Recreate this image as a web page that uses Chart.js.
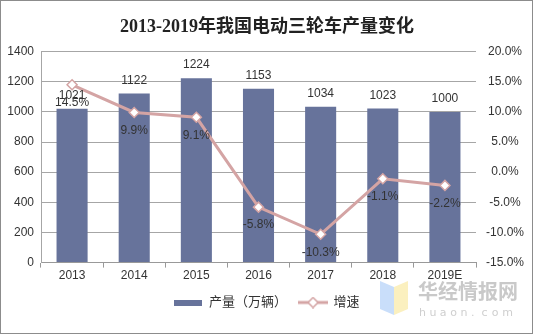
<!DOCTYPE html>
<html>
<head>
<meta charset="utf-8">
<script src="https://cdn.jsdelivr.net/npm/chart.js@4/dist/chart.umd.min.js"></script>
<style>
  html, body { margin: 0; padding: 0; background: #fff; }
  canvas { display: block; }
</style>
</head>
<body>
<canvas id="chart" width="534" height="335"></canvas>
<script>
// 資料
const years = ['2013', '2014', '2015', '2016', '2017', '2018', '2019E'];
const output = [1021, 1122, 1224, 1153, 1034, 1023, 1000]; // 產量（萬輛）
const growth = [14.5, 9.9, 9.1, -5.8, -10.3, -1.1, -2.2];  // 增速 %
const leftTicks = { min: 0, max: 1400, step: 200 };
const rightTicks = { min: -15, max: 20, step: 5 };

const barColor = '#67739b';
const lineColor = '#d4a4a4';
const textColor = '#333333';
const baseFont = '"Liberation Sans", Arial, "Noto Sans CJK SC", sans-serif';

// 圖例小圖示
function barSwatch() {
    const c = document.createElement('canvas');
    c.width = 28; c.height = 6;
    const g = c.getContext('2d');
    g.fillStyle = barColor;
    g.fillRect(0, 0, 28, 6);
    return c;
}
function lineSwatch() {
    const c = document.createElement('canvas');
    c.width = 30; c.height = 12;
    const g = c.getContext('2d');
    g.strokeStyle = lineColor;
    g.lineWidth = 3;
    g.beginPath(); g.moveTo(0, 6); g.lineTo(30, 6); g.stroke();
    g.fillStyle = '#fff';
    g.lineWidth = 1.5;
    g.beginPath();
    g.moveTo(15, 1); g.lineTo(20, 6); g.lineTo(15, 11); g.lineTo(10, 6); g.closePath();
    g.fill(); g.stroke();
    return c;
}

// 數值標籤、外框、浮水印
const extras = {
    id: 'extras',
    afterDatasetsDraw(chart) {
        const ctx = chart.ctx;
        ctx.save();
        ctx.font = '12px ' + baseFont;
        ctx.fillStyle = textColor;
        ctx.textAlign = 'center';
        ctx.textBaseline = 'middle';
        chart.getDatasetMeta(0).data.forEach((bar, i) => {
            ctx.fillText(String(output[i]), bar.x, bar.y - 13);
        });
        chart.getDatasetMeta(1).data.forEach((pt, i) => {
            ctx.fillText(growth[i].toFixed(1) + '%', pt.x, pt.y + 18);
        });
        ctx.restore();
    },
    afterDraw(chart) {
        const ctx = chart.ctx;
        ctx.save();
        // 浮水印
        ctx.globalAlpha = 0.55;
        ctx.fillStyle = '#9cc3f5';
        ctx.beginPath();
        ctx.moveTo(380, 281); ctx.lineTo(394, 287); ctx.lineTo(394, 315); ctx.lineTo(380, 309); ctx.closePath();
        ctx.fill();
        ctx.fillStyle = '#f7e48a';
        ctx.beginPath();
        ctx.moveTo(394, 287); ctx.lineTo(408, 281); ctx.lineTo(408, 309); ctx.lineTo(394, 315); ctx.closePath();
        ctx.fill();
        ctx.globalAlpha = 1;
        ctx.fillStyle = '#c9c9c9';
        ctx.textAlign = 'left';
        ctx.textBaseline = 'middle';
        ctx.font = 'bold 20px "Noto Sans CJK SC", sans-serif';
        ctx.fillText('华经情报网', 418, 291);
        ctx.font = '11px "DejaVu Sans", sans-serif';
        ctx.fillStyle = '#cfcfcf';
        let x = 419;
        'huaon.com'.split('').forEach(ch => { ctx.fillText(ch, x, 313); x += 10.4; });
        // 外框
        ctx.strokeStyle = '#8c8c8c';
        ctx.lineWidth = 1;
        ctx.strokeRect(0.5, 0.5, 532, 333);
        ctx.restore();
    }
};

new Chart(document.getElementById('chart'), {
    data: {
        labels: years,
        datasets: [
            {
                type: 'bar',
                label: '产量（万辆）',
                data: output,
                backgroundColor: barColor,
                yAxisID: 'y',
                order: 2,
                categoryPercentage: 1,
                barPercentage: 0.5
            },
            {
                type: 'line',
                label: '增速',
                data: growth,
                borderColor: lineColor,
                borderWidth: 3,
                pointStyle: 'rectRot',
                pointRadius: 5,
                pointBackgroundColor: '#fff',
                pointBorderColor: lineColor,
                pointBorderWidth: 1.5,
                tension: 0,
                yAxisID: 'y1',
                order: 1
            }
        ]
    },
    options: {
        responsive: false,
        animation: false,
        devicePixelRatio: 1,
        layout: { padding: { left: 0, right: 0, top: 4, bottom: 16 } },
        plugins: {
            title: {
                display: true,
                text: '2013-2019年我国电动三轮车产量变化',
                color: '#222',
                font: { family: '"Liberation Serif", "Noto Sans CJK SC", serif', size: 18, weight: 'bold' },
                padding: { top: 13, bottom: 13 }
            },
            legend: {
                position: 'bottom',
                labels: {
                    usePointStyle: true,
                    pointStyleWidth: 28,
                    color: textColor,
                    font: { family: baseFont, size: 13 },
                    padding: 12,
                    generateLabels() {
                        return [
                            { text: '产量（万辆）', pointStyle: barSwatch(), fontColor: textColor, datasetIndex: 0, lineWidth: 0 },
                            { text: '增速', pointStyle: lineSwatch(), fontColor: textColor, datasetIndex: 1, lineWidth: 0 }
                        ];
                    }
                }
            },
            tooltip: { enabled: false }
        },
        scales: {
            x: {
                offset: true,
                grid: { offset: true, drawOnChartArea: false, drawTicks: true, tickLength: 5, color: '#999' },
                border: { display: true, color: '#999' },
                ticks: { color: textColor, font: { family: baseFont, size: 12 }, padding: 1, maxRotation: 0 }
            },
            y: {
                position: 'left',
                min: leftTicks.min,
                max: leftTicks.max,
                afterFit(s) { s.width = 41; },
                ticks: {
                    stepSize: leftTicks.step,
                    color: textColor,
                    font: { family: baseFont, size: 12 },
                    padding: 7,
                    callback: v => String(v)
                },
                grid: { color: '#a6a6a6', drawTicks: false },
                border: { display: true, color: '#a6a6a6' }
            },
            y1: {
                position: 'right',
                min: rightTicks.min,
                max: rightTicks.max,
                afterFit(s) { s.width = 58; },
                ticks: {
                    stepSize: rightTicks.step,
                    color: textColor,
                    font: { family: baseFont, size: 12 },
                    padding: 10,
                    crossAlign: 'center',
                    callback: v => v.toFixed(1) + '%'
                },
                grid: { display: false, drawTicks: false },
                border: { display: false }
            }
        }
    },
    plugins: [extras]
});
</script>
</body>
</html>
